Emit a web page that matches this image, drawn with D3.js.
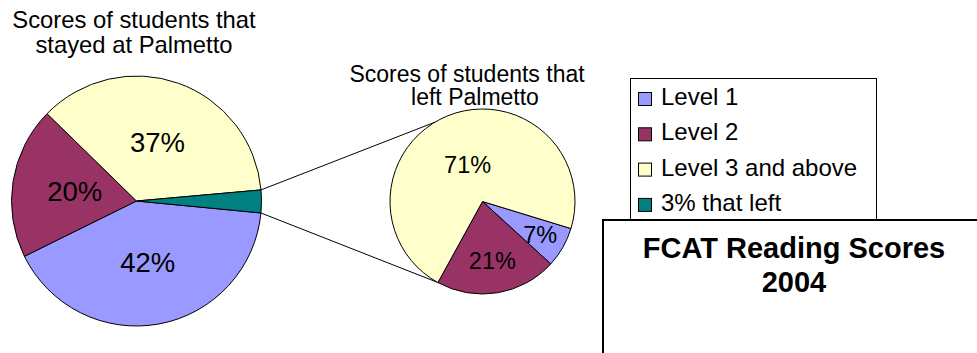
<!DOCTYPE html>
<html>
<head>
<meta charset="utf-8">
<script src="https://cdn.jsdelivr.net/npm/d3@7"></script>
<style>
  html, body { margin: 0; padding: 0; background: #fff; }
  svg { display: block; font-family: "Liberation Sans", Arial, sans-serif; }
</style>
</head>
<body>
<svg id="chart" width="977" height="353"></svg>
<script>
// FCAT Reading Scores 2004: students who stayed vs. students who left Palmetto
const categories = ["Level 1", "Level 2", "Level 3 and above", "3% that left"];
const stayedValues = [42, 20, 37, 3];
const leftCategories = ["Level 1", "Level 2", "Level 3 and above"];
const leftValues = [7, 21, 71];
const palette = ["#9999FF", "#993366", "#FFFFCC", "#008080"];
const stayedTitle = ["Scores of students that", "stayed at Palmetto"];
const leftTitle = ["Scores of students that", "left Palmetto"];
const chartTitle = ["FCAT Reading Scores", "2004"];

const svg = d3.select("#chart");
const color = d3.scaleOrdinal().domain(categories).range(palette);
const deg = Math.PI / 180;

// Main pie (students that stayed)
const main = { cx: 136.5, cy: 201, r: 125, start: 95.5 * deg };
const mainPie = d3.pie().sort(null).value(d => d.value)
  .startAngle(main.start).endAngle(main.start + 2 * Math.PI);
const mainData = mainPie(categories.map((c, i) => ({ cat: c, value: stayedValues[i] })));
const mainArc = d3.arc().innerRadius(0).outerRadius(main.r);

const gMain = svg.append("g").attr("transform", `translate(${main.cx},${main.cy})`);
gMain.selectAll("path").data(mainData).join("path")
  .attr("d", mainArc)
  .attr("fill", d => color(d.data.cat))
  .attr("stroke", "#000").attr("stroke-width", 1);
gMain.selectAll("text").data(mainData.filter(d => d.data.cat !== "3% that left")).join("text")
  .attr("transform", d => `translate(${mainArc.centroid(d)})`)
  .attr("text-anchor", "middle").attr("dy", "0.35em")
  .attr("font-size", 27.5).attr("fill", "#000")
  .text(d => d.data.value + "%");

// Secondary pie (students that left)
const sec = { cx: 482.5, cy: 201.5, r: 92.5, start: 107 * deg };
const secPie = d3.pie().sort(null).value(d => d.value)
  .startAngle(sec.start).endAngle(sec.start + 2 * Math.PI);
const secData = secPie(leftCategories.map((c, i) => ({ cat: c, value: leftValues[i] })));
const secArc = d3.arc().innerRadius(0).outerRadius(sec.r);
const secTotal = d3.sum(leftValues);

// Connector lines from the "3% that left" slice to the secondary pie
const point = (c, r, a) => [c.cx + r * Math.sin(a), c.cy - r * Math.cos(a)];
const leftSlice = mainData[3];
const connectors = [
  [point(main, main.r, leftSlice.startAngle), point(sec, sec.r, 329 * deg)],
  [point(main, main.r, leftSlice.endAngle), point(sec, sec.r, 209 * deg)]
];
svg.append("g").selectAll("line").data(connectors).join("line")
  .attr("x1", d => d[0][0]).attr("y1", d => d[0][1])
  .attr("x2", d => d[1][0]).attr("y2", d => d[1][1])
  .attr("stroke", "#000").attr("stroke-width", 1);

const gSec = svg.append("g").attr("transform", `translate(${sec.cx},${sec.cy})`);
gSec.selectAll("path").data(secData).join("path")
  .attr("d", secArc)
  .attr("fill", d => color(d.data.cat))
  .attr("stroke", "#000").attr("stroke-width", 1);
gSec.selectAll("text").data(secData).join("text")
  .attr("transform", d => {
    const a = (d.startAngle + d.endAngle) / 2;
    const lr = sec.r * (0.75 - 0.45 * d.data.value / secTotal);
    return `translate(${lr * Math.sin(a)},${-lr * Math.cos(a)})`;
  })
  .attr("text-anchor", "middle").attr("dy", "0.35em")
  .attr("font-size", 23.5).attr("fill", "#000")
  .text(d => d.data.value + "%");

// Pie titles
svg.append("g").selectAll("text").data(stayedTitle).join("text")
  .attr("x", 134).attr("y", (d, i) => 28 + i * 25)
  .attr("text-anchor", "middle").attr("font-size", 23.8).text(d => d);
svg.append("g").selectAll("text").data(leftTitle).join("text")
  .attr("x", (d, i) => i === 0 ? 467 : 475).attr("y", (d, i) => 81.5 + i * 23.5)
  .attr("text-anchor", "middle").attr("font-size", 23).text(d => d);

// Legend
const legend = svg.append("g");
legend.append("rect")
  .attr("x", 630.5).attr("y", 78.5).attr("width", 246).attr("height", 142)
  .attr("fill", "#fff").attr("stroke", "#000").attr("stroke-width", 1);
const items = legend.selectAll("g.item").data(categories).join("g")
  .attr("class", "item")
  .attr("transform", (d, i) => `translate(0,${i * 35.3})`);
items.append("rect")
  .attr("x", 638.5).attr("y", 92.5).attr("width", 13).attr("height", 13)
  .attr("fill", d => color(d)).attr("stroke", "#000").attr("stroke-width", 1);
items.append("text")
  .attr("x", 661).attr("y", 105)
  .attr("font-size", 24).attr("fill", "#000").text(d => d);

// Chart title box
const titleBox = svg.append("g");
titleBox.append("rect")
  .attr("x", 603).attr("y", 220).attr("width", 420).attr("height", 200)
  .attr("fill", "#fff").attr("stroke", "#000").attr("stroke-width", 2);
titleBox.selectAll("text").data(chartTitle).join("text")
  .attr("x", 794).attr("y", (d, i) => 258.3 + i * 33.4)
  .attr("text-anchor", "middle").attr("font-size", 29).attr("font-weight", "bold")
  .text(d => d);
</script>
</body>
</html>
